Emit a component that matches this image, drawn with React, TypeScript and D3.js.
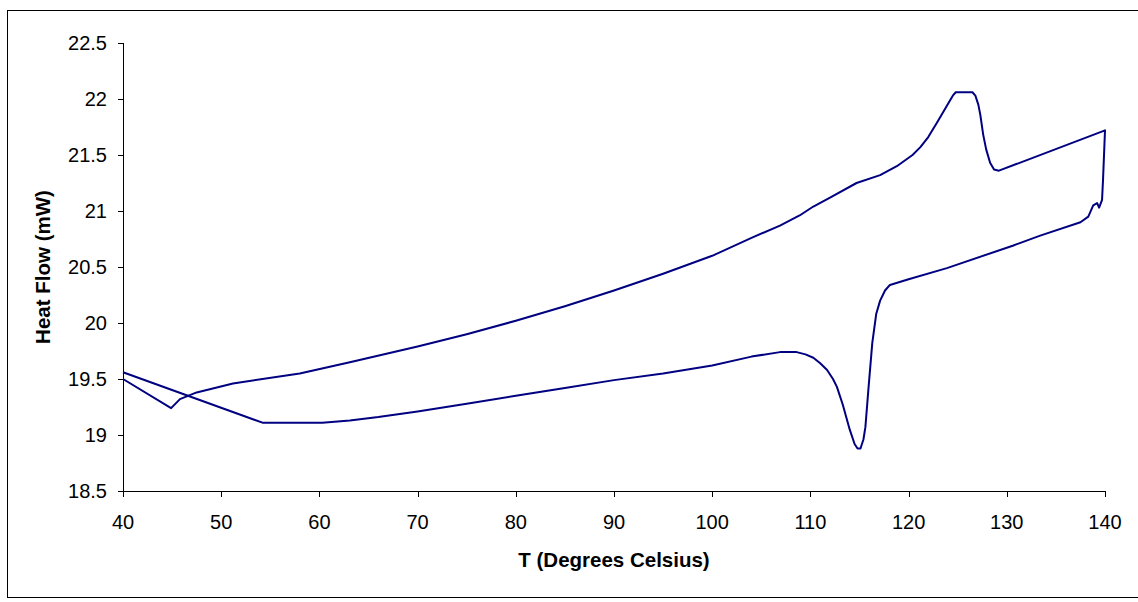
import React from "react";
import * as d3 from "d3";

const width = 1138;
const height = 602;
const margin = { top: 43, right: 33, bottom: 111, left: 123 };

// heating run, 40 -> 140
const heatT = [
  40, 54.2, 60.3, 63.1, 66, 70, 75, 80, 85, 90, 95, 100, 104, 106.9, 108.6,
  109.5, 110.3, 111.0, 111.7, 112.3, 112.7, 113.3, 114.0, 114.5, 114.8, 115.1,
  115.4, 115.6, 115.9, 116.3, 116.7, 117.1, 117.6, 118.1, 120, 123.9, 130.6,
  133.4, 137.5, 138.3, 138.8, 139.2, 139.4, 139.7, 139.8, 140
];
const heatH = [
  19.56, 19.11, 19.11, 19.13, 19.16, 19.21, 19.28, 19.35, 19.42, 19.49, 19.55,
  19.62, 19.7, 19.74, 19.74, 19.72, 19.69, 19.64, 19.58, 19.5, 19.43, 19.27,
  19.05, 18.92, 18.88, 18.88, 18.96, 19.07, 19.4, 19.82, 20.08, 20.2, 20.29,
  20.34, 20.39, 20.49, 20.69, 20.78, 20.9, 20.95, 21.05, 21.07, 21.03, 21.1,
  21.28, 21.72
];

// cooling run, 140 -> 40
const coolT = [
  140, 129.2, 128.7, 128.3, 127.9, 127.6, 127.3, 127.1, 126.8, 126.5, 124.8,
  124.5, 123.9, 122.9, 122.0, 121.2, 120.4, 118.8, 117.1, 114.7, 112, 110.3,
  108.9, 106.9, 104, 100, 95, 90, 85, 80, 75, 70, 63.1, 58, 51.2, 47.5, 45.8,
  44.9, 40
];
const coolH = [
  21.72, 21.36, 21.37, 21.43, 21.55, 21.68, 21.86, 21.95, 22.03, 22.06, 22.06,
  22.03, 21.94, 21.79, 21.66, 21.57, 21.5, 21.4, 21.32, 21.25, 21.12, 21.04,
  20.96, 20.87, 20.76, 20.6, 20.44, 20.29, 20.15, 20.02, 19.9, 19.79, 19.65,
  19.55, 19.46, 19.38, 19.32, 19.24, 19.5
];

const xTicks = [40, 50, 60, 70, 80, 90, 100, 110, 120, 130, 140];
const yTicks = [18.5, 19, 19.5, 20, 20.5, 21, 21.5, 22, 22.5];

const font = "'Liberation Sans', Arial, sans-serif";

export default function App() {
  const x = d3
    .scaleLinear()
    .domain([40, 140])
    .range([margin.left, width - margin.right]);
  const y = d3
    .scaleLinear()
    .domain([18.5, 22.5])
    .range([height - margin.bottom, margin.top]);

  const pts: [number, number][] = [
    ...heatT.map((t, i) => [t, heatH[i]] as [number, number]),
    ...coolT.map((t, i) => [t, coolH[i]] as [number, number])
  ];
  const line = d3
    .line<[number, number]>()
    .x(d => x(d[0]))
    .y(d => y(d[1]));

  const y0 = y(18.5);
  const midX = (x(40) + x(140)) / 2;
  const midY = (y(18.5) + y(22.5)) / 2;

  return (
    <svg
      width={width}
      height={height}
      style={{ position: "absolute", left: 0, top: 0, background: "#fff" }}
    >
      <rect x={7.5} y={10.5} width={1135} height={587} fill="#fff" stroke="#000" />

      {/* y axis */}
      <line x1={x(40) + 0.5} x2={x(40) + 0.5} y1={y(22.5)} y2={y0} stroke="#000" />
      {yTicks.map(t => (
        <g key={t}>
          <line
            x1={x(40) - 5}
            x2={x(40)}
            y1={Math.round(y(t)) + 0.5}
            y2={Math.round(y(t)) + 0.5}
            stroke="#000"
          />
          <text
            x={107}
            y={y(t) + 7}
            textAnchor="end"
            fontFamily={font}
            fontSize={20}
          >
            {t}
          </text>
        </g>
      ))}

      {/* x axis */}
      <line x1={x(40)} x2={x(140)} y1={y0 + 0.5} y2={y0 + 0.5} stroke="#000" />
      {xTicks.map(t => (
        <g key={t}>
          <line
            x1={Math.round(x(t)) + 0.5}
            x2={Math.round(x(t)) + 0.5}
            y1={y0}
            y2={y0 + 6}
            stroke="#000"
          />
          <text
            x={x(t)}
            y={529}
            textAnchor="middle"
            fontFamily={font}
            fontSize={20}
          >
            {t}
          </text>
        </g>
      ))}

      <path
        d={line(pts) || ""}
        fill="none"
        stroke="#000080"
        strokeWidth={2}
        strokeLinejoin="round"
      />

      <text
        x={midX}
        y={567}
        textAnchor="middle"
        fontFamily={font}
        fontSize={20.5}
        fontWeight="bold"
      >
        T (Degrees Celsius)
      </text>
      <text
        transform={`translate(50,${midY}) rotate(-90)`}
        textAnchor="middle"
        fontFamily={font}
        fontSize={20.5}
        fontWeight="bold"
      >
        Heat Flow (mW)
      </text>
    </svg>
  );
}
